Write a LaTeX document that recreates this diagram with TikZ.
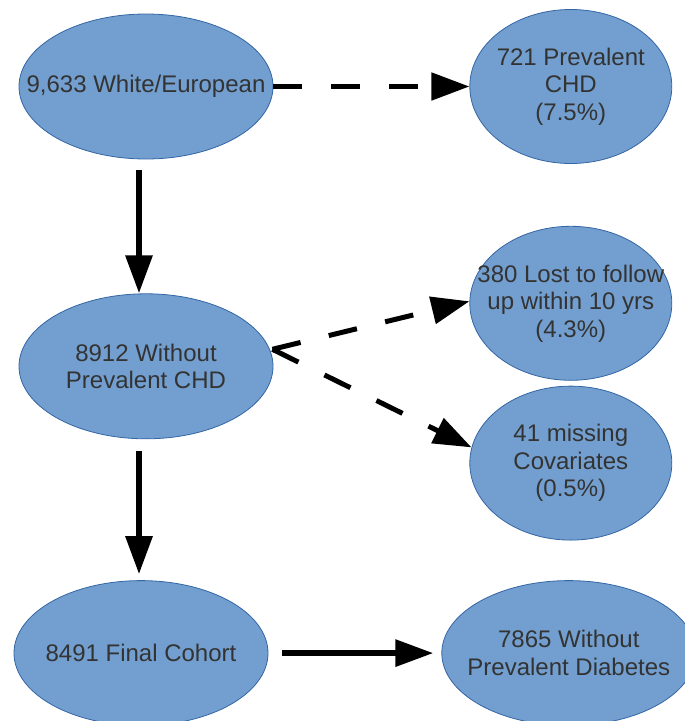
\documentclass[tikz,border=0pt]{standalone}
\usepackage{fontspec}
\setmainfont{Liberation Sans}
\usepackage{xcolor}
\usepackage{tikz}
\usetikzlibrary{shapes.geometric,arrows.meta,positioning}
\definecolor{cellfill}{HTML}{729FCF}
\definecolor{cellline}{HTML}{3465A4}
\definecolor{inktext}{HTML}{333333}

\begin{document}
\begin{tikzpicture}[
  every node/.style={font=\fontsize{24}{27.5}\selectfont},
  cell/.style={ellipse, draw=cellline, fill=cellfill, line width=0.8pt,
               inner sep=0pt, minimum width=254pt, minimum height=145pt},
  side/.style={cell, minimum width=202pt, minimum height=154pt},
  txt/.style={text=inktext, align=center, inner sep=0pt},
  arr/.style={-{Triangle[length=38pt,width=26pt]}, line width=6pt},
  darr/.style={-{Triangle[length=38pt,width=27pt]}, line width=5pt, dash pattern=on 29pt off 29pt}
]
\useasboundingbox (0pt,0pt) rectangle (685pt,-721pt);

% ---- Main column ----
\node[cell, label={[txt]center:9,633 White/European}] (white) at (146pt,-86.5pt) {};
\node[cell, below=134pt of white, label={[txt]center:8912 Without\\Prevalent CHD}] (nochd) {};
\node[cell, below=141pt of nochd, xshift=-5pt, label={[txt]center:8491 Final Cohort}] (final) {};

% ---- Exclusions ----
\node[side, right=196pt of white, label={[txt]center:721 Prevalent\\CHD\\(7.5\%)}] (prevchd) {};
\node[side, below=62pt of prevchd, label={[txt]center:380 Lost to follow\\up within 10 yrs\\(4.3\%)}] (lost) {};
\node[side, below=5pt of lost, label={[txt]center:41 missing\\Covariates\\(0.5\%)}] (missing) {};
\node[cell, right=173pt of final, label={[txt]center:7865 Without\\Prevalent Diabetes}] (nodiab) {};

% ---- Connectors ----
\coordinate (fork) at ([xshift=-1pt,yshift=17pt]nochd.east);
\draw[darr] (white.east) -- (prevchd.west);
\draw[darr] (fork) -- ([yshift=2pt]lost.west);
\draw[darr] (fork) -- (missing.171);
\draw[arr, shorten <=11pt] ([xshift=-7pt]white.south) -- ([xshift=-7pt]nochd.north);
\draw[arr, shorten <=12pt, shorten >=6pt] ([xshift=-7pt]nochd.south) -- ([xshift=-2pt]final.north);
\draw[arr, shorten <=14pt, shorten >=8pt] (final.east) -- (nodiab.west);

\end{tikzpicture}
\end{document}
